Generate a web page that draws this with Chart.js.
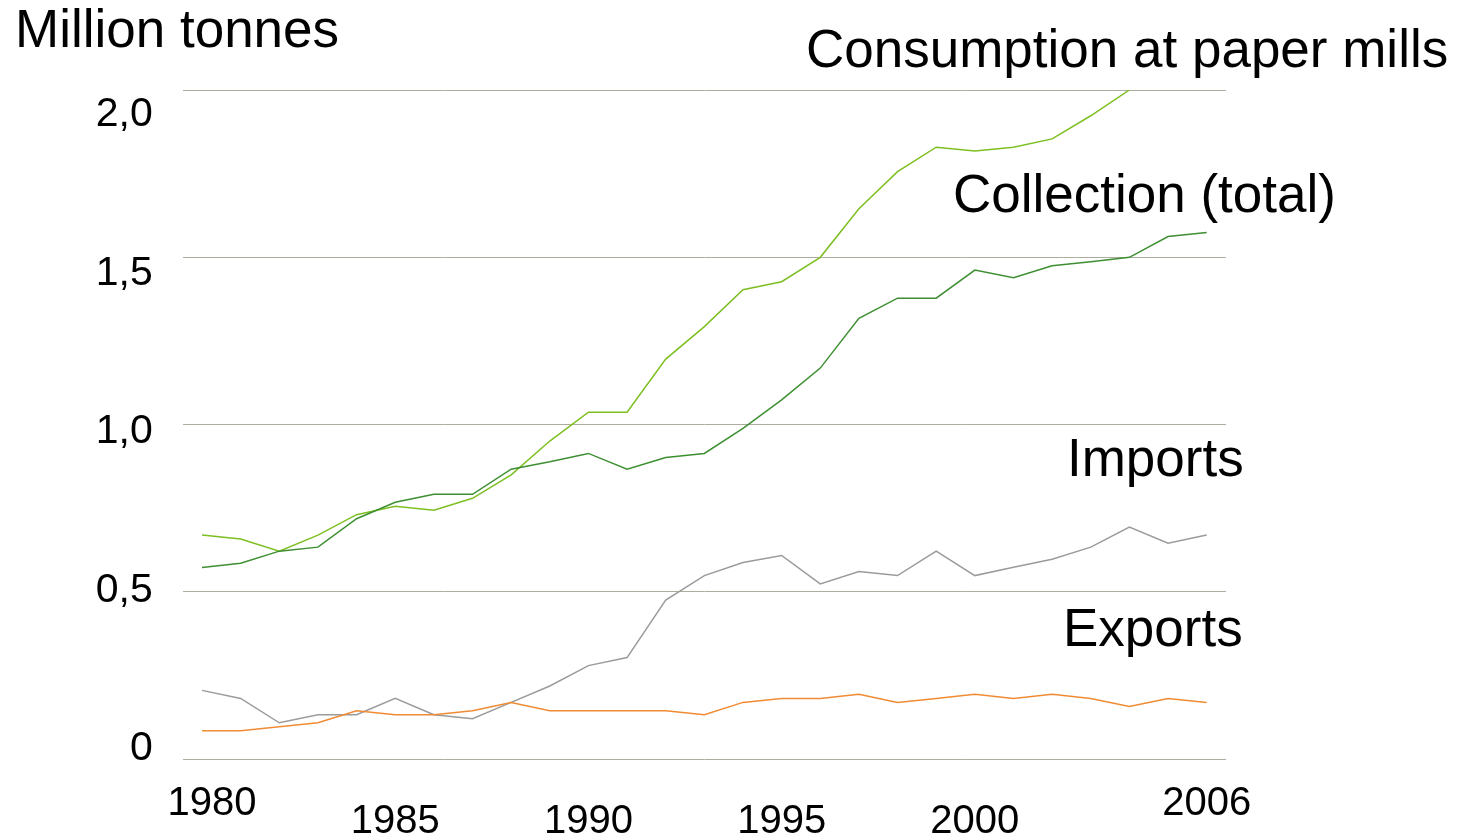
<!DOCTYPE html>
<html>
<head>
<meta charset="utf-8">
<script src="https://cdn.jsdelivr.net/npm/chart.js@4.4.1/dist/chart.umd.min.js"></script>
<style>
  html, body { margin: 0; padding: 0; background: #ffffff; }
  #wrap { width: 1459px; height: 838px; }
</style>
</head>
<body>
<div id="wrap"><canvas id="c" width="1459" height="838"></canvas></div>
<script>
// ---- Data ----
const years = ['1980','1981','1982','1983','1984','1985','1986','1987','1988','1989',
               '1990','1991','1992','1993','1994','1995','1996','1997','1998','1999',
               '2000','2001','2002','2003','2004','2005','2006'];

const consumption = [0.670, 0.658, 0.622, 0.670, 0.731, 0.756, 0.744, 0.780, 0.850, 0.951,
                     1.037, 1.037, 1.196, 1.293, 1.403, 1.427, 1.500, 1.645, 1.756, 1.829,
                     1.818, 1.829, 1.854, 1.923, 2.000, null, null];

const collection = [0.573, 0.586, 0.622, 0.634, 0.719, 0.768, 0.792, 0.792, 0.867, 0.889,
                    0.914, 0.867, 0.902, 0.914, 0.989, 1.074, 1.169, 1.318, 1.378, 1.378,
                    1.462, 1.439, 1.475, 1.487, 1.500, 1.562, 1.574];

const imports = [0.206, 0.182, 0.109, 0.133, 0.133, 0.182, 0.133, 0.121, 0.170, 0.219,
                 0.280, 0.304, 0.476, 0.549, 0.588, 0.609, 0.524, 0.561, 0.549, 0.622,
                 0.549, 0.574, 0.598, 0.634, 0.694, 0.646, 0.670];

const exportsData = [0.085, 0.085, 0.097, 0.109, 0.145, 0.133, 0.133, 0.145, 0.170, 0.145,
                     0.145, 0.145, 0.145, 0.133, 0.170, 0.182, 0.182, 0.194, 0.170, 0.182,
                     0.194, 0.182, 0.194, 0.182, 0.158, 0.182, 0.170];

const xTickLabels = ['1980', '1985', '1990', '1995', '2000', '2006'];
const yTickValues = [0, 0.5, 1.0, 1.5, 2.0];
const yTickLabels = ['0', '0,5', '1,0', '1,5', '2,0'];

const unitLabel = 'Million tonnes';
const seriesNames = ['Consumption at paper mills', 'Collection (total)', 'Imports', 'Exports'];

// ---- Styles ----
const FONT = "'Liberation Sans', Arial, Helvetica, sans-serif";
const colors = ['#7dbf22', '#3d8f31', '#9b9b9b', '#f08b34'];
const gridColor = '#adad9f';

const annotationPlugin = {
  id: 'annotations',
  afterDraw(chart) {
    const ctx = chart.ctx;
    const xs = chart.scales.x;
    ctx.save();
    ctx.fillStyle = '#000000';
    // x tick labels (two staggered rows)
    ctx.font = '40px ' + FONT;
    ctx.textAlign = 'center';
    ctx.textBaseline = 'alphabetic';
    xTickLabels.forEach((lab, i) => {
      const idx = years.indexOf(lab);
      const px = xs.getPixelForValue(idx);
      const upper = (i === 0 || i === xTickLabels.length - 1);
      const shift = (i === 0) ? 10 : 0;
      ctx.fillText(lab, px + shift, upper ? 815 : 833);
    });
    // unit and series labels
    ctx.font = '53px ' + FONT;
    ctx.textAlign = 'left';
    ctx.fillText(unitLabel, 15, 47);
    ctx.fillText(seriesNames[0], 806, 67);
    ctx.fillText(seriesNames[1], 953, 212);
    ctx.fillText(seriesNames[2], 1067, 476);
    ctx.fillText(seriesNames[3], 1063, 646);
    ctx.restore();
  }
};

const mk = (label, data, color) => ({
  label, data,
  borderColor: color,
  backgroundColor: color,
  borderWidth: 1.5,
  pointRadius: 0,
  pointHoverRadius: 0,
  tension: 0,
  fill: false,
  spanGaps: false
});

new Chart(document.getElementById('c'), {
  type: 'line',
  data: {
    labels: years,
    datasets: [
      mk(seriesNames[3], exportsData, colors[3]),
      mk(seriesNames[2], imports, colors[2]),
      mk(seriesNames[1], collection, colors[1]),
      mk(seriesNames[0], consumption, colors[0])
    ]
  },
  options: {
    responsive: false,
    animation: false,
    events: [],
    layout: { padding: { top: 90, right: 233, bottom: 0, left: 0 } },
    plugins: { legend: { display: false }, tooltip: { enabled: false }, title: { display: false } },
    scales: {
      x: {
        type: 'category',
        offset: true,
        grid: { display: false, drawTicks: false },
        border: { display: false },
        ticks: { display: false },
        afterFit(s) { s.height = 78.7; }
      },
      y: {
        position: 'left',
        weight: 0,
        min: 0,
        max: 2,
        ticks: { display: false, stepSize: 0.5 },
        grid: { color: gridColor, lineWidth: 1, drawTicks: false },
        border: { display: false },
        afterFit(s) { s.width = 0; }
      },
      yLabels: {
        type: 'linear',
        position: 'left',
        weight: 1,
        min: -0.03249,
        max: 2.07887,
        grid: { display: false, drawTicks: false },
        border: { display: false },
        ticks: {
          stepSize: 0.5,
          includeBounds: false,
          padding: 30,
          color: '#000000',
          font: { family: FONT, size: 41 },
          callback(v) {
            const k = yTickValues.findIndex(t => Math.abs(t - v) < 1e-6);
            return k >= 0 ? yTickLabels[k] : '';
          }
        },
        afterFit(s) { s.width = 182.7; }
      }
    }
  },
  plugins: [annotationPlugin]
});
</script>
</body>
</html>
